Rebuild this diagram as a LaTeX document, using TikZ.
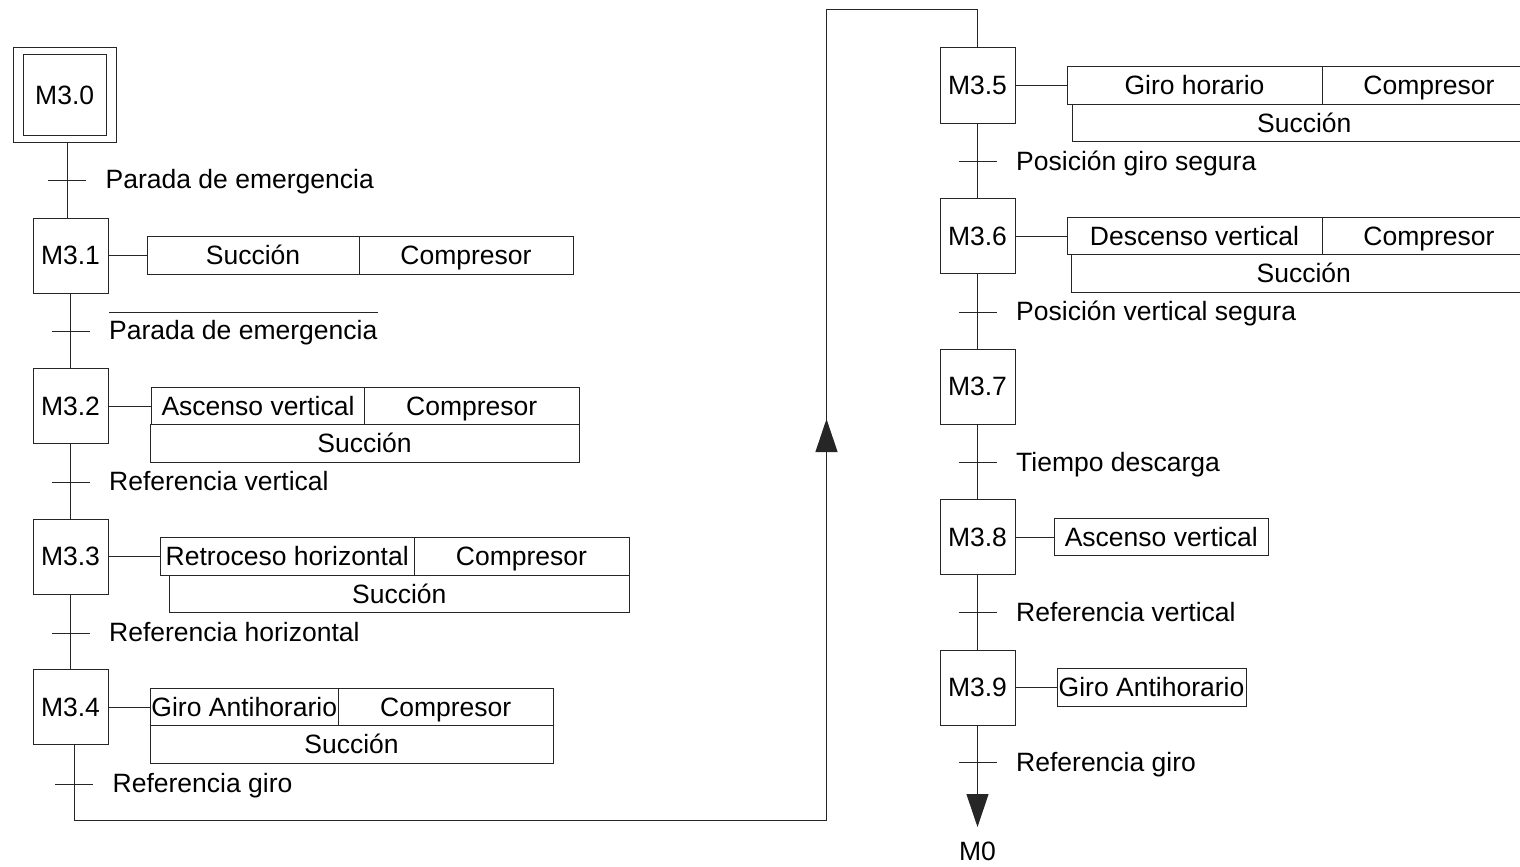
\documentclass[tikz,border=0pt]{standalone}
\usepackage{fontspec}
\setmainfont{Liberation Sans}
\usetikzlibrary{fit}
\usetikzlibrary{positioning}
\usetikzlibrary{arrows.meta}

\begin{document}
\begin{tikzpicture}[
  x=1pt, y=-1pt,
  every node/.style={font=\fontsize{26.5pt}{30pt}\selectfont},
  etapa/.style={draw=black!85, line width=1pt, minimum width=75pt, minimum height=75pt, inner sep=0pt, outer sep=0pt},
  accion/.style={draw=black!85, line width=1pt, minimum height=37.5pt, inner sep=0pt, outer sep=0pt, text height=18pt, text depth=0pt},
  cond/.style={anchor=base west, inner sep=0pt},
  linea/.style={draw=black!85, line width=1pt},
  flecha/.style={linea, -{Triangle[length=33pt, width=22pt]}},
  node distance=75.5pt
  ]
  \useasboundingbox (0,0) rectangle (1520,867);

  % etapa inicial
  \node[etapa, minimum width=83pt, minimum height=80pt] (m30) at (64.7,95) {M3.0};
  \node[etapa, fit=(m30), inner xsep=10pt, inner ysep=7.5pt] (m30o) {};

  % primera columna
  \node[etapa] (m31) at (70.5,255.5) {M3.1};
  \node[etapa, below=of m31] (m32) {M3.2};
  \node[etapa, below=of m32] (m33) {M3.3};
  \node[etapa, below=of m33] (m34) {M3.4};

  \node[accion, minimum width=212pt, right=39pt of m31] (a31a) {Succión};
  \node[accion, minimum width=214pt, right=0pt of a31a] (a31b) {Compresor};

  \node[accion, minimum width=213pt, right=43.5pt of m32] (a32a) {Ascenso vertical};
  \node[accion, minimum width=214.5pt, right=0pt of a32a] (a32b) {Compresor};
  \node[accion, minimum width=429pt, anchor=north west, xshift=-1.5pt] (a32c) at (a32a.south west) {Succión};

  \node[accion, minimum width=253.5pt, right=52.5pt of m33] (a33a) {Retroceso horizontal};
  \node[accion, minimum width=215pt, right=0pt of a33a] (a33b) {Compresor};
  \node[accion, minimum width=459.5pt, anchor=north west, xshift=9pt] (a33c) at (a33a.south west) {Succión};

  \node[accion, minimum width=188.5pt, right=42pt of m34] (a34a) {Giro Antihorario};
  \node[accion, minimum width=214.5pt, right=0pt of a34a] (a34b) {Compresor};
  \node[accion, minimum width=403pt, anchor=north west] (a34c) at (a34a.south west) {Succión};

  \draw[linea] (m31) -- (a31a);
  \draw[linea] (m32) -- (a32a);
  \draw[linea] (m33) -- (a33a);
  \draw[linea] (m34) -- (a34a);

  % transiciones de la primera columna
  \coordinate (t1) at (67,180);
  \coordinate (t2) at (70.5,331);
  \coordinate (t3) at (70.5,482);
  \coordinate (t4) at (70.5,633);
  \coordinate (t5) at (74,784);

  \draw[linea] (m30o.south -| t1) -- (m31.north -| t1);
  \draw[linea] (m31) -- (m32);
  \draw[linea] (m32) -- (m33);
  \draw[linea] (m33) -- (m34);

  \draw[linea] ([xshift=-19pt]t1) -- ([xshift=19pt]t1);
  \draw[linea] ([xshift=-19pt]t2) -- ([xshift=19pt]t2);
  \draw[linea] ([xshift=-19pt]t3) -- ([xshift=19pt]t3);
  \draw[linea] ([xshift=-19pt]t4) -- ([xshift=19pt]t4);
  \draw[linea] ([xshift=-19pt]t5) -- ([xshift=19pt]t5);

  \node[cond] (r1) at ([xshift=38.5pt, yshift=-8.5pt]t1) {Parada de emergencia};
  \node[cond] (r2) at ([xshift=38.5pt, yshift=-8.5pt]t2) {Parada de emergencia};
  \node[cond] (r3) at ([xshift=38.5pt, yshift=-8.5pt]t3) {Referencia vertical};
  \node[cond] (r4) at ([xshift=38.5pt, yshift=-8.5pt]t4) {Referencia horizontal};
  \node[cond] (r5) at ([xshift=38.5pt, yshift=-8.5pt]t5) {Referencia giro};
  % condicion negada
  \draw[linea] ([yshift=7.5pt]r2.north west) -- ([yshift=7.5pt]r2.north east);

  % segunda columna
  \node[etapa] (m35) at (977.5,85.5) {M3.5};
  \node[etapa, below=of m35] (m36) {M3.6};
  \node[etapa, below=of m36] (m37) {M3.7};
  \node[etapa, below=of m37] (m38) {M3.8};
  \node[etapa, below=of m38] (m39) {M3.9};

  \node[accion, minimum width=255pt, right=52pt of m35] (a35a) {Giro horario};
  \node[accion, minimum width=214pt, right=0pt of a35a] (a35b) {Compresor};
  \node[accion, minimum width=463.5pt, anchor=north west, xshift=5.5pt] (a35c) at (a35a.south west) {Succión};

  \node[accion, minimum width=255pt, right=52pt of m36] (a36a) {Descenso vertical};
  \node[accion, minimum width=214pt, right=0pt of a36a] (a36b) {Compresor};
  \node[accion, minimum width=464.5pt, anchor=north west, xshift=4.5pt] (a36c) at (a36a.south west) {Succión};

  \node[accion, minimum width=214.5pt, right=39pt of m38] (a38) {Ascenso vertical};
  \node[accion, minimum width=189pt, right=42pt of m39] (a39) {Giro Antihorario};

  \draw[linea] (m35) -- (a35a);
  \draw[linea] (m36) -- (a36a);
  \draw[linea] (m38) -- (a38);
  \draw[linea] (m39) -- (a39);

  % transiciones de la segunda columna
  \coordinate (t6) at (977.5,161.5);
  \coordinate (t7) at (977.5,312);
  \coordinate (t8) at (977.5,462.5);
  \coordinate (t9) at (977.5,612.5);
  \coordinate (t10) at (977.5,762.5);

  \draw[linea] (m35) -- (m36);
  \draw[linea] (m36) -- (m37);
  \draw[linea] (m37) -- (m38);
  \draw[linea] (m38) -- (m39);

  \draw[linea] ([xshift=-19pt]t6) -- ([xshift=19pt]t6);
  \draw[linea] ([xshift=-19pt]t7) -- ([xshift=19pt]t7);
  \draw[linea] ([xshift=-19pt]t8) -- ([xshift=19pt]t8);
  \draw[linea] ([xshift=-19pt]t9) -- ([xshift=19pt]t9);
  \draw[linea] ([xshift=-19pt]t10) -- ([xshift=19pt]t10);

  \node[cond] (r6) at ([xshift=38.5pt, yshift=-8.5pt]t6) {Posición giro segura};
  \node[cond] (r7) at ([xshift=38.5pt, yshift=-8.5pt]t7) {Posición vertical segura};
  \node[cond] (r8) at ([xshift=38.5pt, yshift=-8.5pt]t8) {Tiempo descarga};
  \node[cond] (r9) at ([xshift=38.5pt, yshift=-8.5pt]t9) {Referencia vertical};
  \node[cond] (r10) at ([xshift=38.5pt, yshift=-8.5pt]t10) {Referencia giro};

  % salto de M3.4 a M3.5
  \coordinate (b1) at (74,820);
  \coordinate (b2) at (826.5,820);
  \coordinate (b3) at (826.5,10);
  \coordinate (f1) at (826.5,419);
  \draw[linea] (m34.south -| b1) -- (b1) -- (b2) -- (b3) -- (b3 -| m35) -- (m35);
  \draw[flecha] (b2) -- (f1);

  % salida hacia M0
  \coordinate (fin) at (977.5,827);
  \draw[flecha] (m39) -- (fin);
  \node (m0) at (977.5,851) {M0};
\end{tikzpicture}
\end{document}
